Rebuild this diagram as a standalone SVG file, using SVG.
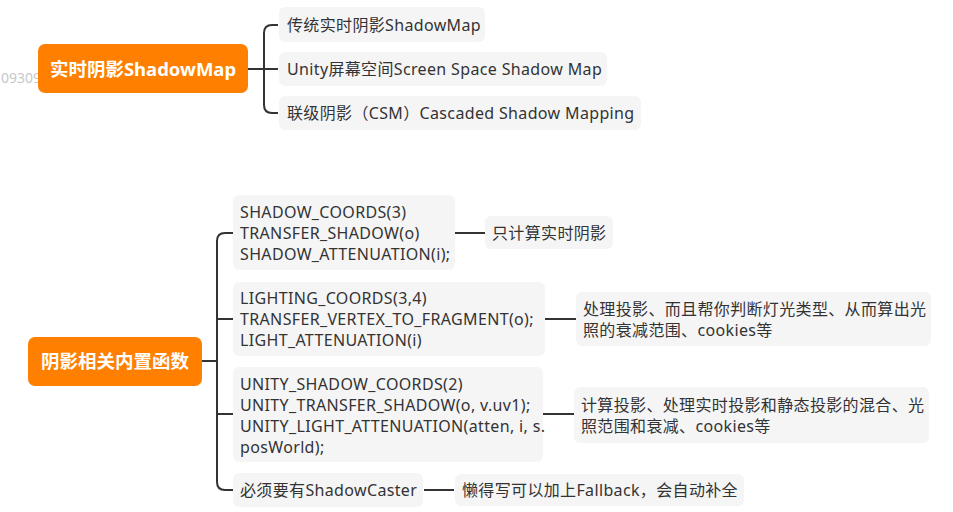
<svg xmlns="http://www.w3.org/2000/svg" width="953" height="512" viewBox="0 0 953 512">
<style>
.root{fill:#FF7F00;}
.rt{fill:#FFFFFF;font-family:"Noto Sans","Noto Sans CJK SC",sans-serif;font-size:18.5px;font-weight:bold;}
.box{fill:#F5F5F6;}
.t{fill:#333333;font-family:"Noto Sans","Noto Sans CJK SC",sans-serif;font-size:16px;letter-spacing:0.35px;}
.c{fill:none;stroke:#333333;stroke-width:2;}
.wm{fill:#C8C8C8;font-family:"Noto Sans",sans-serif;font-size:14px;}
</style>
<rect width="953" height="512" fill="#FFFFFF"/>
<text class="wm" x="1" y="83">09309</text>
<g id="connectors">
<path class="c" d="M248,69 H278 M278,25 H272 Q264,25 264,33 V105 Q264,113 272,113 H278"/>
<path class="c" d="M202,361 H217 M233,233 H225 Q217,233 217,241 V482 Q217,490 225,490 H233 M217,319 H233 M217,414 H233"/>
<path class="c" d="M455,233 H485 M545,319 H576 M543,414 H574 M424,490 H454"/>
</g>
<g id="root1">
<rect class="root" x="38" y="44" width="210" height="49" rx="7"/>
<text class="rt" x="143" y="75.5" text-anchor="middle">实时阴影ShadowMap</text>
</g>
<g id="n1">
<rect class="box" x="279" y="7" width="206" height="35" rx="6"/>
<text class="t" x="287" y="30.5">传统实时阴影ShadowMap</text>
</g>
<g id="n2">
<rect class="box" x="279" y="52" width="328" height="34" rx="6"/>
<text class="t" x="287" y="74.5">Unity屏幕空间Screen Space Shadow Map</text>
</g>
<g id="n3">
<rect class="box" x="279" y="96" width="362" height="34" rx="6"/>
<text class="t" x="287" y="118.5">联级阴影（CSM）Cascaded Shadow Mapping</text>
</g>
<g id="root2">
<rect class="root" x="28" y="337" width="174" height="49" rx="7"/>
<text class="rt" x="115" y="368" text-anchor="middle">阴影相关内置函数</text>
</g>
<g id="a">
<rect class="box" x="233" y="195" width="222" height="75" rx="6"/>
<text class="t" x="240" y="217.5">SHADOW_COORDS(3)</text>
<text class="t" x="240" y="238.5">TRANSFER_SHADOW(o)</text>
<text class="t" x="240" y="259.5">SHADOW_ATTENUATION(i);</text>
</g>
<g id="a1">
<rect class="box" x="485" y="216" width="128" height="33" rx="6"/>
<text class="t" x="492" y="238.5">只计算实时阴影</text>
</g>
<g id="b">
<rect class="box" x="233" y="282" width="312" height="74" rx="6"/>
<text class="t" x="240" y="303.5">LIGHTING_COORDS(3,4)</text>
<text class="t" x="240" y="324.5">TRANSFER_VERTEX_TO_FRAGMENT(o);</text>
<text class="t" x="240" y="345.5">LIGHT_ATTENUATION(i)</text>
</g>
<g id="b1">
<rect class="box" x="576" y="292" width="355" height="54" rx="6"/>
<text class="t" x="583" y="314.5">处理投影、而且帮你判断灯光类型、从而算出光</text>
<text class="t" x="583" y="335.5">照的衰减范围、cookies等</text>
</g>
<g id="c">
<rect class="box" x="233" y="367" width="310" height="95" rx="6"/>
<text class="t" x="240" y="389.5">UNITY_SHADOW_COORDS(2)</text>
<text class="t" x="240" y="410.5">UNITY_TRANSFER_SHADOW(o, v.uv1);</text>
<text class="t" x="240" y="431.5">UNITY_LIGHT_ATTENUATION(atten, i, s.</text>
<text class="t" x="240" y="452.5">posWorld);</text>
</g>
<g id="c1">
<rect class="box" x="574" y="387" width="355" height="56" rx="6"/>
<text class="t" x="581" y="410.5">计算投影、处理实时投影和静态投影的混合、光</text>
<text class="t" x="581" y="431.5">照范围和衰减、cookies等</text>
</g>
<g id="d">
<rect class="box" x="233" y="473" width="190" height="34" rx="6"/>
<text class="t" x="240" y="495.5">必须要有ShadowCaster</text>
</g>
<g id="d1">
<rect class="box" x="455" y="474" width="289" height="32" rx="6"/>
<text class="t" x="462" y="495.5">懒得写可以加上Fallback，会自动补全</text>
</g>
</svg>
